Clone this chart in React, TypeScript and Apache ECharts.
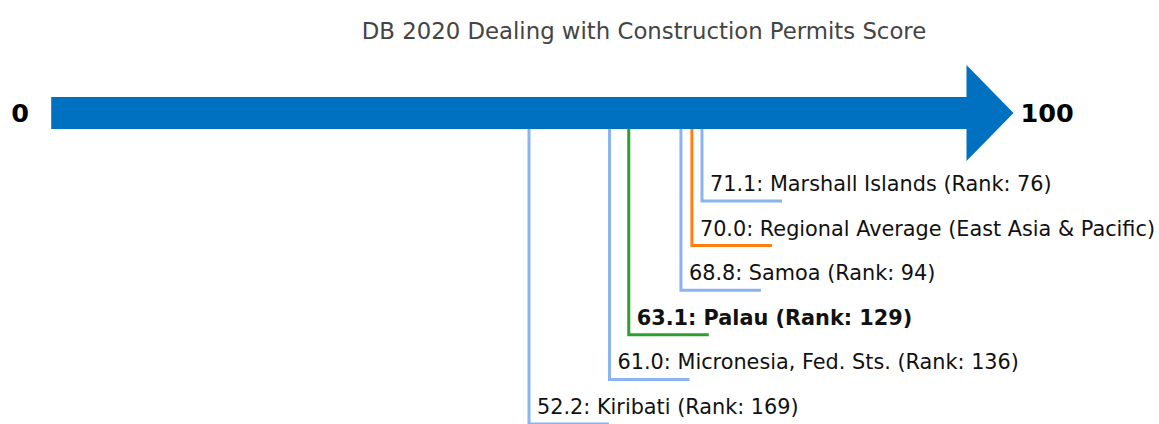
import React, { useEffect, useRef } from "react";
import * as echarts from "echarts";

const titleText = "DB 2020 Dealing with Construction Permits Score";
const economies = [
  "Marshall Islands",
  "Regional Average (East Asia & Pacific)",
  "Samoa",
  "Palau",
  "Micronesia, Fed. Sts.",
  "Kiribati",
];
const scores = [71.1, 70.0, 68.8, 63.1, 61.0, 52.2];
const ranks: (number | null)[] = [76, null, 94, 129, 136, 169];
const kinds = ["peer", "regional", "peer", "focus", "peer", "peer"];
const axisEnds = [0, 100];

const COLORS: Record<string, string> = {
  peer: "#8ab4f0",
  regional: "#ff7f0e",
  focus: "#2ca02c",
};

const FONT = "DejaVu Sans";
const ARROW_Y = 113;
const SHAFT_HALF = 16;
const HEAD_HALF = 48;
const HEAD_LEN = 47;
const FIRST_LEVEL = 201;
const LEVEL_STEP = 44.6;

function labelOf(i: number) {
  const r = ranks[i];
  const s = scores[i].toFixed(1);
  return r == null ? `${s}: ${economies[i]}` : `${s}: ${economies[i]} (Rank: ${r})`;
}

export default function App() {
  const ref = useRef<HTMLDivElement>(null);
  useEffect(() => {
    if (!ref.current) return;
    const chart = echarts.init(ref.current, null, { renderer: "svg" });
    chart.setOption({
      animation: false,
      backgroundColor: "#ffffff",
      title: {
        text: titleText,
        left: 639,
        top: 14,
        textAlign: "center",
        textStyle: { fontFamily: FONT, fontSize: 22.8, fontWeight: "normal", color: "#444444" },
      },
      grid: { left: 51.2, right: 192.5, top: 0, bottom: 0 },
      xAxis: { type: "value", min: axisEnds[0], max: axisEnds[1], show: false },
      yAxis: { type: "value", min: 0, max: 424, inverse: true, show: false },
      series: [
        {
          type: "custom",
          z: 2,
          clip: false,
          data: scores.map((s, i) => [s, i]),
          renderItem: (params: any, api: any) => {
            const i = params.dataIndex;
            const x = api.coord([api.value(0), ARROW_Y])[0];
            const yTop = api.coord([0, ARROW_Y])[1];
            const ly = FIRST_LEVEL + i * LEVEL_STEP;
            const color = COLORS[kinds[i]];
            return {
              type: "group",
              children: [
                {
                  type: "polyline",
                  shape: { points: [[x, yTop], [x, ly], [x + 80, ly]] },
                  style: { stroke: color, lineWidth: 3, fill: null, lineJoin: "miter" },
                },
                {
                  type: "text",
                  x: x + 8,
                  y: ly - 17,
                  style: {
                    text: labelOf(i),
                    fill: "#111111",
                    fontFamily: FONT,
                    fontSize: 20.8,
                    fontWeight: kinds[i] === "focus" ? "bold" : "normal",
                    align: "left",
                    verticalAlign: "middle",
                  },
                },
              ],
            };
          },
        },
        {
          type: "custom",
          z: 5,
          clip: false,
          data: [[axisEnds[0], axisEnds[1]]],
          renderItem: (params: any, api: any) => {
            const p0 = api.coord([api.value(0), ARROW_Y]);
            const p1 = api.coord([api.value(1), ARROW_Y]);
            const y = p0[1];
            return {
              type: "group",
              children: [
                {
                  type: "polygon",
                  shape: {
                    points: [
                      [p0[0], y - SHAFT_HALF],
                      [p1[0], y - SHAFT_HALF],
                      [p1[0], y - HEAD_HALF],
                      [p1[0] + HEAD_LEN, y],
                      [p1[0], y + HEAD_HALF],
                      [p1[0], y + SHAFT_HALF],
                      [p0[0], y + SHAFT_HALF],
                    ],
                  },
                  style: { fill: "#0070c0", stroke: null },
                },
                {
                  type: "text",
                  x: p0[0] - 31,
                  y: y,
                  style: {
                    text: String(axisEnds[0]),
                    fill: "#000000",
                    fontFamily: FONT,
                    fontSize: 25.5,
                    fontWeight: "bold",
                    align: "center",
                    verticalAlign: "middle",
                  },
                },
                {
                  type: "text",
                  x: p1[0] + HEAD_LEN + 7,
                  y: y,
                  style: {
                    text: String(axisEnds[1]),
                    fill: "#000000",
                    fontFamily: FONT,
                    fontSize: 25.5,
                    fontWeight: "bold",
                    align: "left",
                    verticalAlign: "middle",
                  },
                },
              ],
            };
          },
        },
      ],
    });
    return () => chart.dispose();
  }, []);
  return (
    <div
      ref={ref}
      style={{ position: "fixed", left: 0, top: 0, width: 1159, height: 424 }}
    />
  );
}
